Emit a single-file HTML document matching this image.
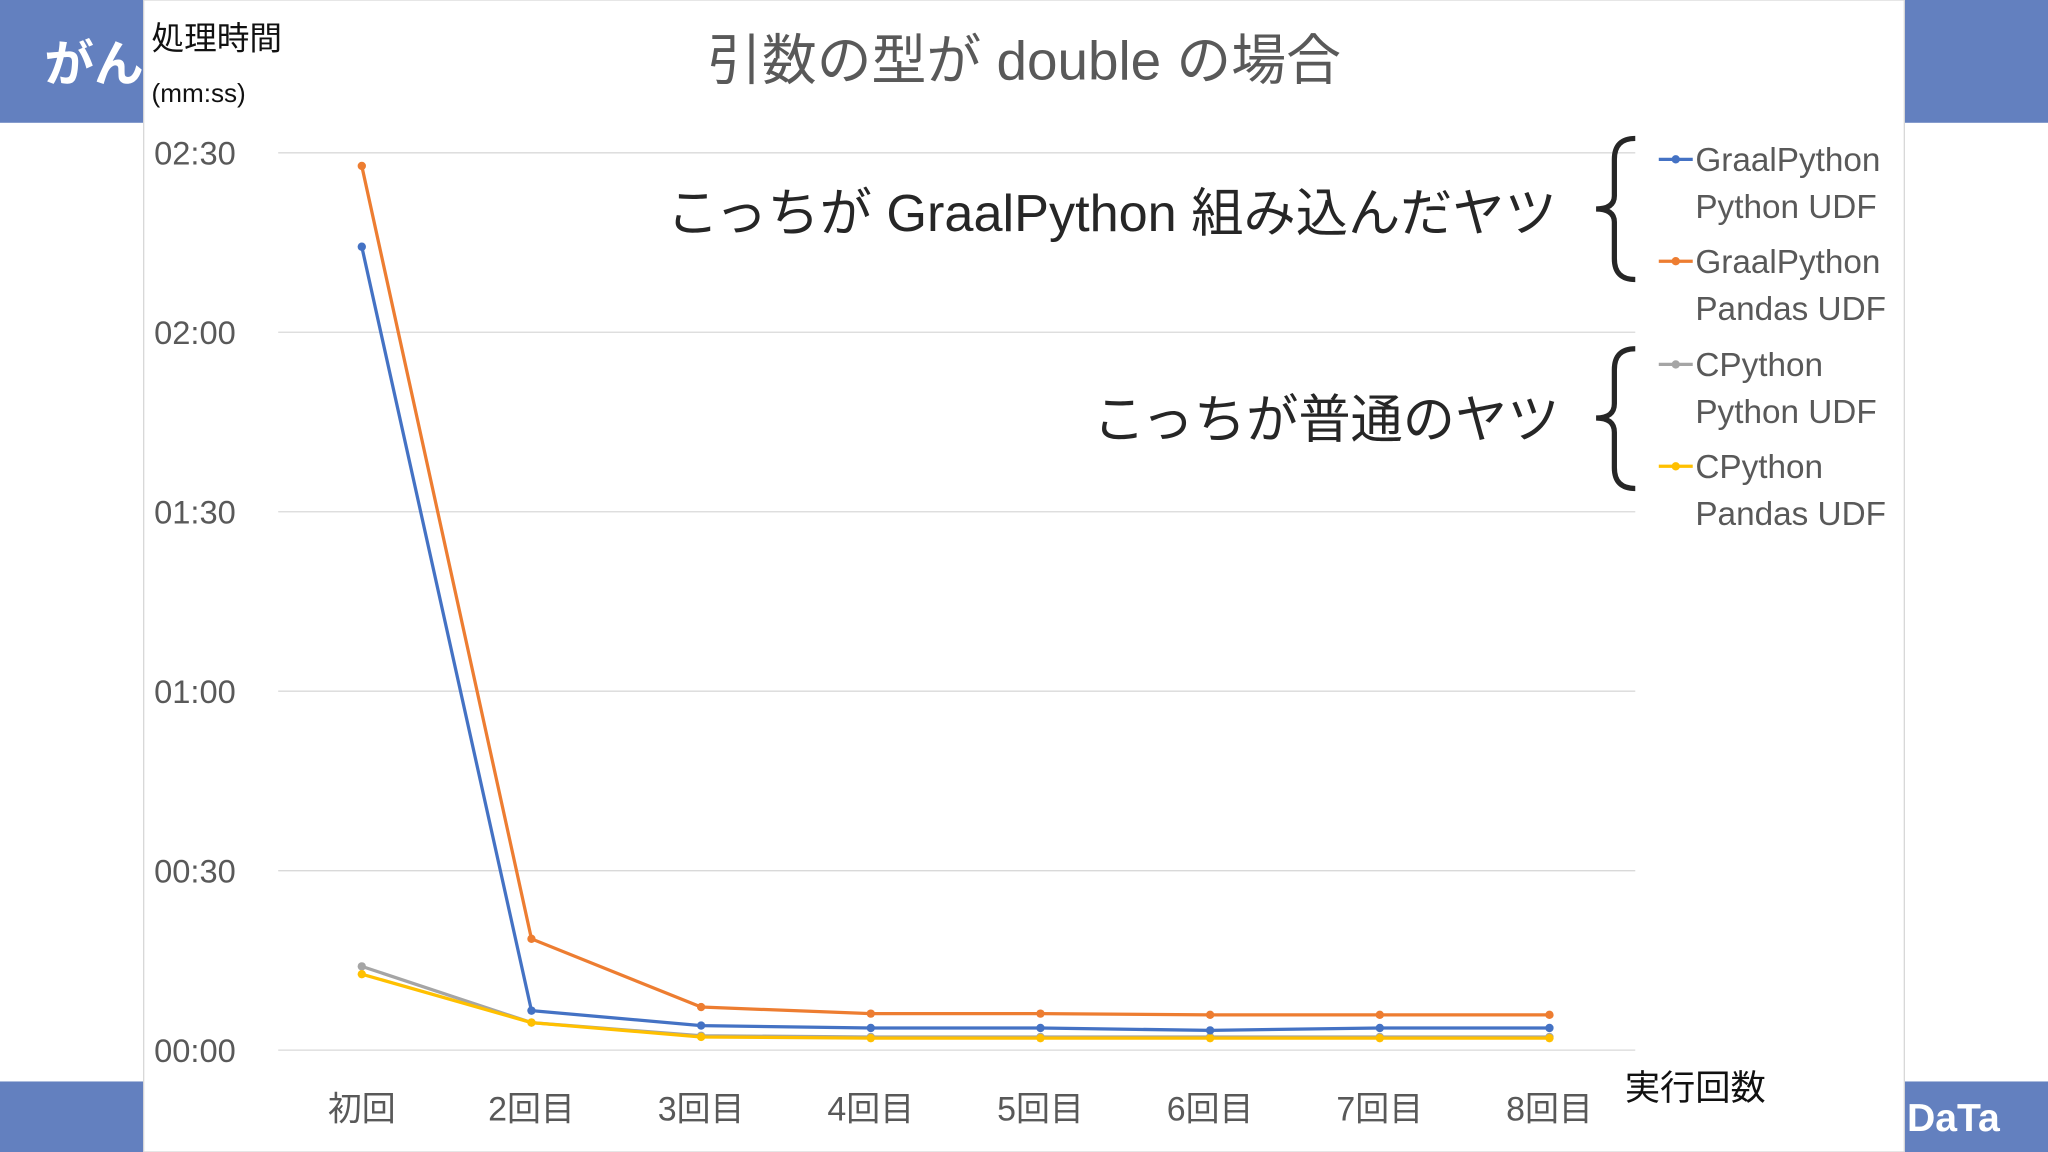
<!DOCTYPE html>
<html><head><meta charset="utf-8"><style>
html,body{margin:0;padding:0;background:#fff;}
svg{display:block;font-family:"Liberation Sans","Noto Sans CJK JP",sans-serif;}
</style></head><body>
<svg id="chart" width="2048" height="1152" viewBox="0 0 1568 882" xmlns="http://www.w3.org/2000/svg">
<rect x="0" y="0" width="1568" height="882" fill="#fff"/>
<rect x="0" y="0" width="112" height="94" fill="#6380bf"/>
<rect x="1458" y="0" width="110" height="94" fill="#6380bf"/>
<rect x="0" y="828" width="1568" height="54" fill="#6380bf"/>
<text x="34" y="62" font-size="38" font-weight="bold" fill="#fff">がん</text>
<text x="1460" y="866" font-size="30" font-weight="bold" fill="#fff">DaTa</text>
<rect x="110" y="0" width="1348" height="882" fill="#fff" stroke="#d8d8d8" stroke-width="1"/>
<text x="784" y="61" font-size="42" fill="#595959" text-anchor="middle">引数の型が double の場合</text>
<text x="116" y="38" font-size="25" fill="#111">処理時間</text>
<text x="116" y="78" font-size="20" fill="#111">(mm:ss)</text>
<text x="1244" y="842" font-size="27" fill="#111">実行回数</text>
<g id="grid"></g><g id="yticks"></g><g id="xticks"></g><g id="series"></g>
<text x="1192" y="177" font-size="40" fill="#262626" text-anchor="end">こっちが GraalPython 組み込んだヤツ</text>
<text x="1194" y="335" font-size="40" fill="#262626" text-anchor="end">こっちが普通のヤツ</text>
<path d="M1252,106 Q1236,106 1236,122 L1236,150 Q1236,160 1222,160 Q1236,160 1236,170 L1236,198 Q1236,214 1252,214" fill="none" stroke="#262626" stroke-width="4"/>
<path d="M1252,267 Q1236,267 1236,283 L1236,309 Q1236,320 1222,320 Q1236,320 1236,331 L1236,358 Q1236,374 1252,374" fill="none" stroke="#262626" stroke-width="4"/>
<g id="legend"></g>
</svg>
<script>
const categories = ["初回","2回目","3回目","4回目","5回目","6回目","7回目","8回目"];
const graalPython = [134.3,6.6,4.1,3.7,3.7,3.3,3.7,3.7];
const graalPandas = [147.8,18.6,7.2,6.1,6.1,5.9,5.9,5.9];
const cpyPython = [14.0,4.6,2.4,2.2,2.2,2.2,2.2,2.2];
const cpyPandas = [12.7,4.6,2.2,2.0,2.0,2.0,2.0,2.0];
const yTickValues = [0,30,60,90,120,150];
const yTickLabels = ["00:00","00:30","01:00","01:30","02:00","02:30"];
const seriesNames = [["GraalPython","Python UDF"],["GraalPython","Pandas UDF"],["CPython","Python UDF"],["CPython","Pandas UDF"]];

const NS="http://www.w3.org/2000/svg";
const y=v=>804-v/150*687;
const x=i=>277+i*129.9;
function mk(tag,attrs,parent){const e=document.createElementNS(NS,tag);for(const k in attrs)e.setAttribute(k,attrs[k]);parent.appendChild(e);return e;}
const grid=document.getElementById('grid'),yt=document.getElementById('yticks'),xt=document.getElementById('xticks'),sg=document.getElementById('series'),lg=document.getElementById('legend');
yTickValues.forEach((v,i)=>{
  const l=mk('line',{x1:213,x2:1252,y1:y(v),y2:y(v),stroke:'#d9d9d9','stroke-width':1},grid);
  
  
  const t=mk('text',{x:118,y:y(v)+9,'font-size':25,fill:'#595959'},yt);
  t.textContent=yTickLabels[i];
  
  
});
categories.forEach((c,i)=>{
  const t=mk('text',{x:x(i),y:858,'font-size':26,fill:'#595959','text-anchor':'middle'},xt);
  t.textContent=c;
  
  
});
const all=[graalPython,graalPandas,cpyPython,cpyPandas];
const colors=["#4472c4","#ed7d31","#a5a5a5","#ffc000"];
[2,3,0,1].forEach(s=>{
  const d=all[s];
  const p=mk('polyline',{points:d.map((v,i)=>x(i)+','+y(v)).join(' '),fill:'none',stroke:colors[s],'stroke-width':2.5},sg);
  
  
  d.forEach((v,i)=>{
    const c=mk('circle',{cx:x(i),cy:y(v),r:3.2,fill:colors[s]},sg);
    
    
  });
});
const ly=[122,200,279,357];
seriesNames.forEach((n,i)=>{
  const l=mk('line',{x1:1270,x2:1296,y1:ly[i],y2:ly[i],stroke:colors[i],'stroke-width':2.5},lg);
  
  
  const c=mk('circle',{cx:1283,cy:ly[i],r:3.2,fill:colors[i]},lg);
  
  
  const t1=mk('text',{x:1298,y:ly[i]+9,'font-size':25.5,fill:'#595959'},lg);
  t1.textContent=n[0];
  
  
  const t2=mk('text',{x:1298,y:ly[i]+45,'font-size':25.5,fill:'#595959'},lg);
  t2.textContent=n[1];
  
  
});
</script>
</body></html>
